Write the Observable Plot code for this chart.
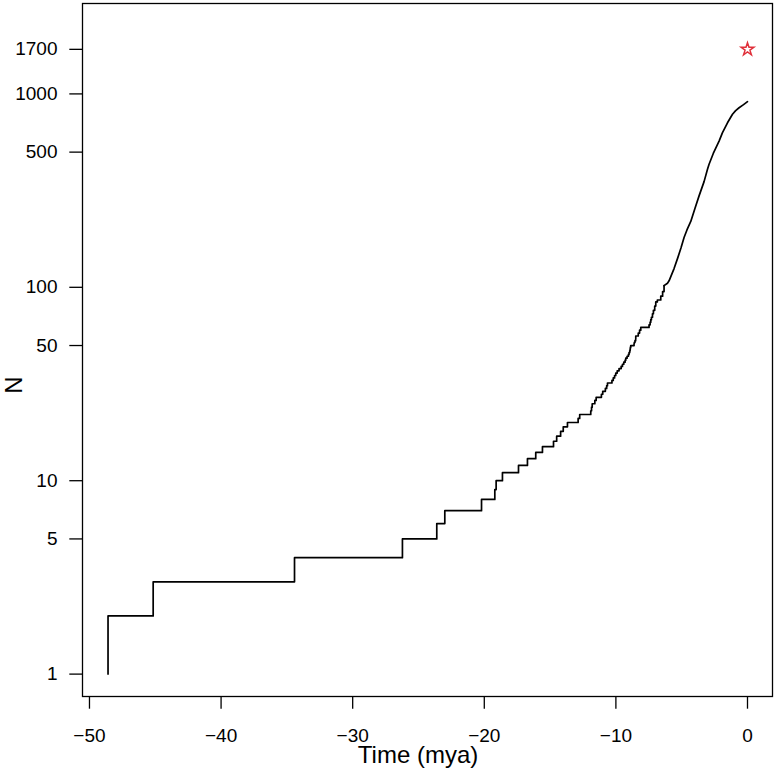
<!DOCTYPE html>
<html>
<head>
<meta charset="utf-8">
<script src="https://cdn.jsdelivr.net/npm/d3@7"></script>
<script src="https://cdn.jsdelivr.net/npm/@observablehq/plot@0.6"></script>
<style>
  body { margin: 0; background: #fff; }
  #chart svg { display: block; }
</style>
</head>
<body>
<div id="chart"></div>
<script>
// Lineage-through-time, stepped part: time (mya) at which N lineages begin
const stepTimes = [-48.59,-48.59,-45.16,-34.42,-26.22,-23.61,-23.0,-20.21,-19.2,-19.1,-18.62,-17.4,-16.72,-16.09,-15.58,-14.74,-14.5,-14.2,-14.0,-13.68,-12.87,-12.75,-11.91,-11.85,-11.8,-11.6,-11.5,-11.1,-11.0,-10.8,-10.7,-10.64,-10.3,-10.2,-10.1,-10.01,-9.9,-9.76,-9.6,-9.5,-9.4,-9.3,-9.25,-9.15,-9.05,-9.0,-8.95,-8.92,-8.9,-8.87,-8.62,-8.6,-8.55,-8.5,-8.49,-8.3,-8.2,-8.11,-7.48,-7.4,-7.35,-7.3,-7.22,-7.15,-7.05,-6.97,-6.85,-6.59,-6.45,-6.34];
const stepN = [1,2,3,4,5,6,7,8,9,10,11,12,13,14,15,16,17,18,19,20,21,22,23,24,25,26,27,28,29,30,31,32,33,34,35,36,37,38,39,40,41,42,43,44,45,46,47,48,49,50,51,52,53,54,56,58,60,62,64,66,68,70,73,76,80,84,86,90,95,102];
// Dense recent part (steps too small to see)
const denseTimes = [-6.34,-6.08,-5.96,-5.58,-5.3,-5.05,-4.82,-4.6,-4.31,-4.0,-3.68,-3.3,-3.04,-2.92,-2.6,-2.16,-1.90,-1.52,-1.14,-0.9,-0.64,-0.3,0];
const denseN = [102,105,108,125,142,160,181,198,219,255,297,352,408,433,492,570,631,709,785,820,848,880,912];
// Observed species count marker
const starTime = [0];
const starN = [1700];
// Axis ticks
const xTicks = [-50,-40,-30,-20,-10,0];
const yTicks = [1,5,10,50,100,500,1000,1700];

const stepped = stepTimes.map((t, i) => ({t, n: stepN[i]}));
const dense = denseTimes.map((t, i) => ({t, n: denseN[i]}));
const star = starTime.map((t, i) => ({t, n: starN[i]}));

const W = 775, H = 775;
const mL = 82, mR = 3, mT = 3, mB = 79;
const FONT = "'Liberation Sans', Arial, Helvetica, sans-serif";

const chart = Plot.plot({
  width: W,
  height: H,
  marginLeft: mL,
  marginRight: mR,
  marginTop: mT,
  marginBottom: mB,
  style: {fontFamily: FONT, fontSize: "19px", background: "#fff", color: "#000"},
  x: {domain: [-50.53, 1.90]},
  y: {type: "log", domain: [0.766, 2934]},
  marks: [
    Plot.frame({stroke: "#000", strokeWidth: 1.3}),
    Plot.axisX({ticks: xTicks, tickSize: 12.7, tickPadding: 19, tickFormat: d => String(d).replace("-", "\u2212"), label: null, strokeWidth: 1.3, fontSize: 19}),
    Plot.axisY({ticks: yTicks, tickSize: 12.7, tickFormat: () => "", label: null, strokeWidth: 1.3}),
    Plot.text(yTicks, {y: d => d, text: d => String(d), frameAnchor: "left", dx: -25, textAnchor: "end", fontSize: 19, fill: "#000"}),
    Plot.line(stepped, {x: "t", y: "n", curve: "step-after", stroke: "#000", strokeWidth: 1.7}),
    Plot.line(dense, {x: "t", y: "n", curve: "linear", stroke: "#000", strokeWidth: 1.7}),
    Plot.dot(star, {x: "t", y: "n", symbol: "star", r: 4, fill: "none", stroke: "#e0303a", strokeWidth: 1.5})
  ]
});

const svg = d3.select(chart);
svg.append("text")
  .attr("x", 418).attr("y", 763)
  .attr("text-anchor", "middle")
  .attr("font-family", FONT)
  .attr("font-size", 24)
  .attr("fill", "#000")
  .text("Time (mya)");
svg.append("text")
  .attr("transform", "translate(22,385) rotate(-90)")
  .attr("text-anchor", "middle")
  .attr("font-family", FONT)
  .attr("font-size", 24)
  .attr("fill", "#000")
  .text("N");

document.getElementById("chart").appendChild(chart);
</script>
</body>
</html>
